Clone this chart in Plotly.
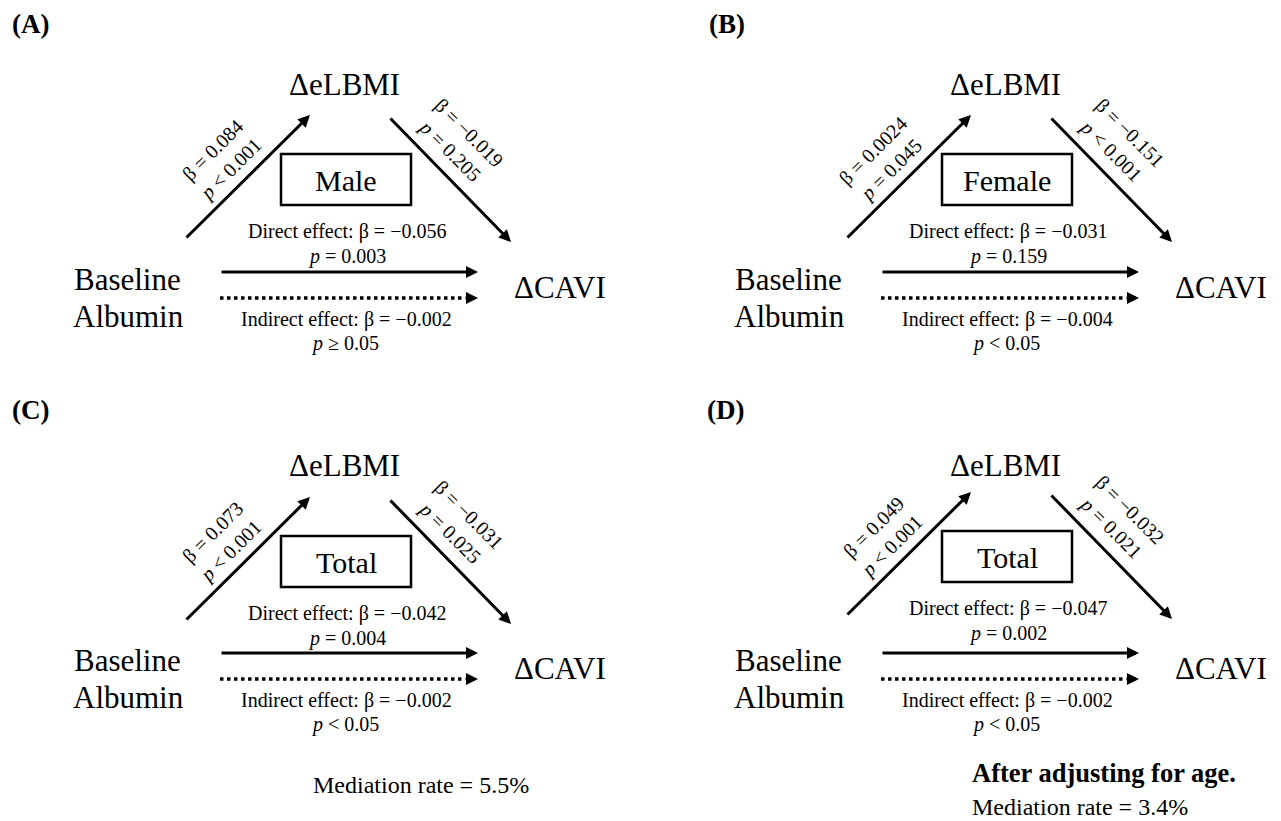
import plotly.graph_objects as go

# ---- values shown in the four mediation diagrams ----
panel_tags = ["(A)", "(B)", "(C)", "(D)"]
group_names = ["Male", "Female", "Total", "Total"]
path_a_beta = ["0.084", "0.0024", "0.073", "0.049"]
path_a_p = ["&lt; 0.001", "= 0.045", "&lt; 0.001", "&lt; 0.001"]
path_b_beta = ["\u22120.019", "\u22120.151", "\u22120.031", "\u22120.032"]
path_b_p = ["= 0.205", "&lt; 0.001", "= 0.025", "= 0.021"]
direct_beta = ["\u22120.056", "\u22120.031", "\u22120.042", "\u22120.047"]
direct_p = ["= 0.003", "= 0.159", "= 0.004", "= 0.002"]
indirect_beta = ["\u22120.002", "\u22120.004", "\u22120.002", "\u22120.002"]
indirect_p = ["\u2265 0.05", "&lt; 0.05", "&lt; 0.05", "&lt; 0.05"]
mediation_rate = [None, None, "5.5%", "3.4%"]
adjust_note = [None, None, None, "After adjusting for age."]

node_x = ["Baseline", "Albumin"]
node_m = "\u0394eLBMI"
node_y = "\u0394CAVI"

# ---- layout of one diagram (pixel coordinates of the page) ----
W, H = 1281, 821
FONT = "Liberation Serif"
panel_dx = [0, 661, 0, 661]
panel_dy = [0, 0, 381, 381]
# the upper triangle (box, a/b paths, direct-effect text) sits slightly higher in (D)
inner_dy = [0, 0, 1, -4]
tag_pos = [(10, 24), (707, 24), (10, 410), (705, 410)]

annotations = []
shapes = []


def text(x, y, s, size, bold=False, xanchor="center", angle=0):
    annotations.append(dict(
        x=x, y=y, xref="x", yref="y", text=f"<b>{s}</b>" if bold else s,
        showarrow=False, textangle=angle,
        font=dict(family=FONT, size=size, color="black"),
        xanchor=xanchor, yanchor="middle"))


def arrow(x0, y0, x1, y1):
    annotations.append(dict(
        x=x1, y=y1, ax=x0, ay=y0, xref="x", yref="y", axref="x", ayref="y",
        text="", showarrow=True, arrowhead=2, arrowsize=0.8,
        arrowwidth=3, arrowcolor="black"))


def dotted_arrow(x0, x1, y):
    shapes.append(dict(type="line", xref="x", yref="y", x0=x0, x1=x1 - 13,
                       y0=y, y1=y, line=dict(color="black", width=3.5, dash="dot")))
    arrow(x1 - 14, y, x1, y)


for i in range(4):
    dx, dy = panel_dx[i], panel_dy[i]
    iy = dy + inner_dy[i]
    tx, ty = tag_pos[i]
    text(tx, ty, panel_tags[i], 27, bold=True, xanchor="left")

    # nodes
    text(344 + dx, 84 + dy, node_m, 31)
    text(127 + dx, 279 + dy, node_x[0], 31)
    text(128 + dx, 316 + dy, node_x[1], 31)
    text(560 + dx, 287 + dy, node_y, 31)

    # a path and b path
    arrow(185 + dx, 239 + iy, 310 + dx, 115 + iy)
    arrow(389 + dx, 117 + iy, 511 + dx, 242 + iy)
    text(221 + dx, 160 + iy,
         f"\u03b2 = {path_a_beta[i]}<br><i>p</i> {path_a_p[i]}", 20, angle=-45)
    text(460 + dx, 142 + iy,
         f"\u03b2 = {path_b_beta[i]}<br><i>p</i> {path_b_p[i]}", 20, angle=45)

    # group box
    shapes.append(dict(type="rect", xref="x", yref="y",
                       x0=281 + dx, x1=411 + dx, y0=154 + iy, y1=205 + iy,
                       line=dict(color="black", width=2.5)))
    text(346 + dx, 180 + iy, group_names[i], 30)

    # direct effect
    text(347 + dx, 231 + iy, f"Direct effect: \u03b2 = {direct_beta[i]}", 20)
    text(347 + dx, 256 + iy, f"<i>p</i> {direct_p[i]}", 20)
    arrow(220 + dx, 272 + dy, 478 + dx, 272 + dy)

    # indirect effect
    dotted_arrow(220 + dx, 478 + dx, 298 + dy)
    text(346 + dx, 319 + dy, f"Indirect effect: \u03b2 = {indirect_beta[i]}", 20)
    text(345 + dx, 343 + dy, f"<i>p</i> {indirect_p[i]}", 20)

# footnotes
text(421, 785, f"Mediation rate = {mediation_rate[2]}", 24)
text(970, 773, adjust_note[3], 26.5, bold=True, xanchor="left")
text(970, 807, f"Mediation rate = {mediation_rate[3]}", 24, xanchor="left")

fig = go.Figure()
fig.update_layout(
    width=W, height=H, margin=dict(l=0, r=0, t=0, b=0),
    paper_bgcolor="white", plot_bgcolor="white",
    xaxis=dict(range=[0, W], visible=False, fixedrange=True),
    yaxis=dict(range=[H, 0], visible=False, fixedrange=True),
    showlegend=False,
    annotations=annotations, shapes=shapes,
)
fig.write_html("out.html", config=dict(displayModeBar=False))
